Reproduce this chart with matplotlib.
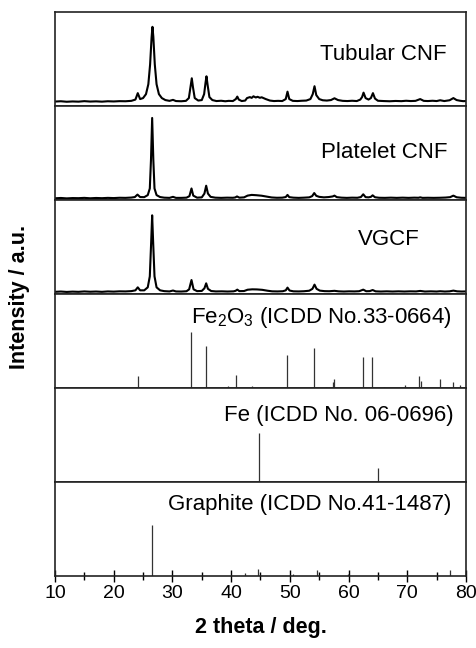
import numpy as np
import matplotlib
matplotlib.use("Agg")
import matplotlib.pyplot as plt
from matplotlib.ticker import MultipleLocator

plt.rcParams['font.family'] = ['Liberation Sans', 'DejaVu Sans']
plt.rcParams['mathtext.fontset'] = 'custom'
plt.rcParams['mathtext.rm'] = 'Liberation Sans'

tubular = [(10, 0.5), (11, 0.8), (12, 0.3), (13, 0.6), (14, 0.4), (15, 0.9), (16, 0.5), (17, 0.7),
           (18, 0.4), (19, 0.8), (20, 0.6), (21, 0.9), (22, 0.8), (23, 1.2), (23.7, 2.5), (24.1, 9),
           (24.5, 3), (25.0, 4), (25.5, 8), (25.9, 18), (26.2, 38), (26.45, 65), (26.6, 76),
           (26.75, 66), (27.0, 38), (27.3, 18), (27.7, 8), (28.2, 4), (28.8, 2), (29.5, 1.2),
           (30.1, 2.2), (30.6, 1), (31.5, 0.8), (32.3, 1.2), (32.8, 4), (33.1, 16), (33.3, 24),
           (33.5, 15), (33.8, 4), (34.4, 1.5), (35.0, 2), (35.4, 8), (35.65, 20), (35.8, 26),
           (36.0, 17), (36.3, 5), (36.8, 2), (37.5, 1), (38.3, 1.3), (39.0, 0.8), (39.6, 1.2),
           (40.3, 1), (40.8, 3), (41.05, 5.5), (41.3, 2.5), (41.8, 1), (42.4, 1.5), (42.7, 4),
           (43.2, 5), (43.5, 4.2), (43.8, 5.8), (44.2, 4.6), (44.5, 5.3), (44.9, 4.3), (45.2, 4.8),
           (45.9, 3), (46.6, 1.5), (47.3, 1), (48.0, 1.2), (48.7, 1), (49.3, 3), (49.6, 10.5),
           (49.9, 3), (50.5, 1.2), (51.3, 1), (52.0, 1.3), (52.8, 1.5), (53.5, 3), (53.9, 8),
           (54.2, 16), (54.5, 7), (55.0, 3), (55.6, 1.8), (56.3, 1.5), (57.0, 2), (57.6, 3.8),
           (58.2, 2), (59.0, 1.2), (59.8, 1), (60.6, 1.3), (61.4, 1), (62.0, 2.5), (62.3, 5),
           (62.55, 9.5), (62.9, 4), (63.4, 2.5), (63.8, 4), (64.15, 9), (64.5, 3.5), (65.0, 1.3),
           (66.0, 1), (67.0, 0.8), (68.0, 1.1), (69.0, 0.9), (69.8, 1.3), (70.6, 1), (71.4, 1.2),
           (72.2, 3), (72.8, 1.2), (73.5, 1), (74.3, 1.3), (75.0, 1), (75.6, 1.8), (76.3, 1),
           (77.2, 1.8), (77.85, 4), (78.4, 2), (79.0, 1.3), (79.5, 0.9), (80.0, 1)]

platelet = [(10, 0.4), (11, 0.7), (12, 0.3), (13, 0.6), (14, 0.5), (15, 0.8), (16, 0.4), (17, 0.7),
            (18, 0.5), (19, 0.8), (20, 0.6), (21, 0.9), (22, 0.8), (23, 1.1), (23.6, 1.6),
            (24.05, 4), (24.5, 1.6), (25.2, 1.5), (25.8, 3.5), (26.15, 10), (26.35, 38),
            (26.55, 79), (26.75, 38), (26.95, 10), (27.3, 3.5), (27.9, 1.6), (28.6, 1), (29.5, 0.8),
            (30.1, 1.8), (30.6, 0.8), (31.5, 0.8), (32.4, 1), (32.9, 2.5), (33.25, 10), (33.55, 3),
            (34.2, 1), (35.0, 1.3), (35.45, 5), (35.75, 12.7), (36.05, 5), (36.5, 1.8), (37.3, 1),
            (38.3, 0.8), (39.3, 1), (40.3, 0.9), (40.7, 1.2), (41.0, 2.2), (41.4, 1), (42.2, 1.3),
            (42.8, 3), (43.5, 3.7), (44.3, 3.4), (45.2, 2.9), (46.1, 2), (46.9, 1.2), (47.8, 0.9),
            (48.7, 1), (49.3, 1.6), (49.6, 3.7), (49.9, 1.5), (50.6, 1), (51.5, 0.8), (52.4, 1),
            (53.3, 1.3), (53.8, 2.5), (54.15, 5.5), (54.5, 2.8), (55.0, 1.8), (55.8, 1.3),
            (56.6, 1.6), (57.3, 2.2), (57.6, 3), (58.0, 1.5), (58.8, 1), (59.7, 0.8), (60.6, 1),
            (61.5, 0.9), (62.1, 1.6), (62.5, 4.3), (62.9, 1.5), (63.4, 1.3), (63.8, 1.8),
            (64.1, 3.3), (64.5, 1.4), (65.2, 0.9), (66.2, 0.8), (67.2, 1), (68.2, 0.8), (69.2, 1),
            (70.2, 0.8), (71.2, 1), (71.9, 0.9), (72.2, 1.3), (72.6, 0.8), (73.5, 0.9), (74.5, 0.8),
            (75.5, 0.9), (76.5, 1.1), (77.3, 1.5), (77.85, 3), (78.4, 1.4), (79.2, 0.9), (80, 0.8)]

vgcf = [(10, 0.5), (11, 0.8), (12, 0.4), (13, 0.7), (14, 0.5), (15, 0.9), (16, 0.6), (17, 0.8),
        (18, 0.5), (19, 0.9), (20, 0.7), (21, 1.0), (22, 0.9), (23, 1.2), (23.7, 2), (24.1, 5),
        (24.5, 2), (25.2, 2), (25.8, 5), (26.15, 16), (26.38, 50), (26.55, 77), (26.72, 50),
        (26.95, 16), (27.3, 5), (27.9, 2), (28.6, 1.2), (29.5, 0.9), (30.1, 1.8), (30.6, 0.9),
        (31.5, 0.8), (32.4, 1.1), (32.85, 3), (33.25, 12.3), (33.6, 3), (34.2, 1.2), (35.0, 1.4),
        (35.45, 4), (35.75, 9), (36.05, 3.5), (36.6, 1.3), (37.4, 0.9), (38.4, 1), (39.4, 0.8),
        (40.4, 1), (40.75, 1.5), (41.05, 2.7), (41.4, 1.2), (42.2, 1.3), (42.8, 2.6), (43.6, 3),
        (44.4, 2.9), (45.3, 2.5), (46.2, 1.6), (47.0, 1), (47.9, 0.9), (48.8, 1.1), (49.3, 2),
        (49.6, 4.7), (49.95, 1.8), (50.6, 1), (51.5, 0.9), (52.4, 1.1), (53.3, 1.6), (53.85, 3.5),
        (54.2, 7.7), (54.55, 3.5), (55.1, 1.7), (55.9, 1.2), (56.7, 1.1), (57.6, 1.5), (58.3, 1),
        (59.2, 0.8), (60.1, 1), (61.0, 0.9), (61.8, 1.1), (62.5, 2.7), (63.0, 1.1), (63.6, 1.2),
        (64.1, 2.3), (64.6, 1), (65.5, 0.8), (66.5, 1), (67.5, 0.8), (68.5, 1), (69.5, 0.8),
        (70.5, 1), (71.5, 0.9), (72.2, 1.4), (73.0, 0.8), (74.0, 1), (75.0, 0.8), (75.6, 1.1),
        (76.4, 0.8), (77.2, 1), (77.85, 1.7), (78.5, 1), (79.3, 0.8), (80, 0.9)]

# reference stick patterns (relative intensity)
fe2o3_tt = [24.2, 33.2, 35.7, 39.4, 40.9, 43.6, 49.5, 54.1, 56.2, 57.4, 57.6, 62.5, 64.0, 66.1,
            69.6, 72.0, 72.3, 75.5, 77.8, 78.9]
fe2o3_int = [22, 100, 75, 4, 24, 4, 59, 72, 2, 10, 17, 55, 56, 2, 6, 21, 12, 17, 10, 5]
fe_tt = [44.7, 65.0]
fe_int = [100, 28]
graphite_tt = [26.5, 42.3, 44.5, 50.5, 54.6, 59.9, 77.3]
graphite_int = [100, 6, 14, 5, 12, 4, 12]

fig = plt.figure(figsize=(4.76, 6.48), dpi=100)
gs = fig.add_gridspec(6, 1, left=0.1155, right=0.979, top=0.9815, bottom=0.111, hspace=0)
axes = [fig.add_subplot(gs[i]) for i in range(6)]

curves = [(tubular, (-4, 91), "Tubular CNF", 0.954, 0.484),
          (platelet, (-1.3, 90.7), "Platelet CNF", 0.954, 0.45),
          (vgcf, (-1.7, 92.3), "VGCF", 0.888, 0.518)]
for ax, (pts, ylim, name, tx, ty) in zip(axes[:3], curves):
    tt, inten = np.array(pts).T
    ax.plot(tt, inten, color="black", lw=1.5)
    ax.set_ylim(*ylim)
    ax.text(tx, ty, name, transform=ax.transAxes, ha="right", va="baseline", fontsize=16)

sticks = [(fe2o3_tt, fe2o3_int, 169, r"Fe$\mathregular{_2}$O$\mathregular{_3}$ (ICDD No.33-0664)", 0.965, 0.69),
          (fe_tt, fe_int, 191, "Fe (ICDD No. 06-0696)", 0.969, 0.65),
          (graphite_tt, graphite_int, 184, "Graphite (ICDD No.41-1487)", 0.965, 0.70)]
for ax, (tt, inten, top, name, tx, ty) in zip(axes[3:], sticks):
    ax.vlines(tt, 0, inten, color="#333333", lw=0.9)
    ax.set_ylim(0, top)
    ax.text(tx, ty, name, transform=ax.transAxes, ha="right", va="baseline", fontsize=16)

for i, ax in enumerate(axes):
    ax.set_xlim(10, 80)
    ax.set_yticks([])
    for s in ax.spines.values():
        s.set_linewidth(1.2)
        s.set_color("#222222")
    if i < 5:
        ax.tick_params(axis="x", which="both", bottom=False, labelbottom=False)

ax = axes[-1]
ax.xaxis.set_major_locator(MultipleLocator(10))
ax.xaxis.set_minor_locator(MultipleLocator(5))
ax.tick_params(axis="x", which="major", direction="inout", length=9, width=1, labelsize=14, pad=2)
ax.tick_params(axis="x", which="minor", direction="inout", length=6, width=1)
ax.set_xlabel("2 theta / deg.", fontsize=15.5, fontweight="bold", labelpad=11)

fig.text(0.042, 0.542, "Intensity / a.u.", rotation=90, ha="center", va="center",
         fontsize=15.5, fontweight="bold")

fig.savefig("out.png", dpi=100)
